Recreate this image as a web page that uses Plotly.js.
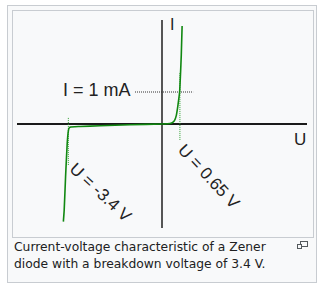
<!DOCTYPE html>
<html>
<head>
<meta charset="utf-8">
<script src="https://cdn.plot.ly/plotly-3.0.1.min.js"></script>
<style>
  html, body { margin: 0; padding: 0; background: #ffffff; }
  body { width: 321px; height: 290px; position: relative; overflow: hidden; }
  #outer { position: absolute; left: 7px; top: 5px; width: 310px; height: 278px;
           box-sizing: border-box; border: 1px solid #c8ccd1; background: #f8f9fa; }
  #inner { position: absolute; left: 12px; top: 10px; width: 302px; height: 228px;
           box-sizing: border-box; border: 1px solid #c8ccd1; background: #f8f9fa; }
  #chart { position: absolute; left: 0; top: 0; width: 321px; height: 290px; }
  #caption { position: absolute; left: 14px; top: 239px; width: 280px;
             font-family: "DejaVu Sans", sans-serif; font-size: 12.32px; line-height: 17.25px;
             color: #202122; }
  #enlarge { position: absolute; left: 296px; top: 240px; }
</style>
</head>
<body>
<div id="outer"></div>
<div id="inner"></div>
<div id="chart"></div>
<div id="caption">Current-voltage characteristic of a Zener diode with a breakdown voltage of 3.4 V.</div>
<svg id="enlarge" width="13" height="10" viewBox="0 0 13 10">
  <rect x="4.5" y="1.5" width="7" height="5" fill="none" stroke="#54595d" stroke-width="1"/>
  <rect x="1.5" y="4.5" width="4" height="4" fill="#f8f9fa" stroke="#54595d" stroke-width="1"/>
</svg>
<script>
// Forward branch (U in V, I in mA)
const forwardU = [0, 0.29, 0.40, 0.47, 0.52, 0.56, 0.60, 0.64, 0.67, 0.70, 0.73];
const forwardI = [0, 0.016, 0.06, 0.14, 0.27, 0.47, 0.72, 1.0, 1.53, 2.16, 3.06];
// Reverse branch (from origin toward breakdown)
const reverseU = [0, -1.16, -2.25, -2.98, -3.34, -3.38, -3.40, -3.44, -3.50, -3.55, -3.58];
const reverseI = [0, -0.025, -0.053, -0.078, -0.10, -0.14, -0.22, -0.59, -1.65, -2.69, -3.05];

// Reference values
const currentRef = 1;        // I = 1 mA
const forwardVoltage = 0.65; // U = 0.65 V
const breakdownVoltage = -3.4; // U = -3.4 V
const currentGuideU = [-0.98, 1.13];
const forwardGuideI = [1.59, -0.5];
const breakdownGuideI = [0.19, -1.28];

const curveU = reverseU.slice().reverse().concat(forwardU.slice(1));
const curveI = reverseI.slice().reverse().concat(forwardI.slice(1));

const traces = [
  { x: currentGuideU, y: [currentRef, currentRef], mode: 'lines', hoverinfo: 'skip',
    line: { color: '#333333', width: 1, dash: '1px,1px' } },
  { x: [forwardVoltage, forwardVoltage], y: forwardGuideI, mode: 'lines', hoverinfo: 'skip',
    line: { color: '#2e9e2e', width: 1, dash: '1px,1px' } },
  { x: [breakdownVoltage, breakdownVoltage], y: breakdownGuideI, mode: 'lines', hoverinfo: 'skip',
    line: { color: '#2e9e2e', width: 1, dash: '1px,1px' } },
  { x: curveU, y: curveI, mode: 'lines', hoverinfo: 'skip',
    line: { color: '#118811', width: 1.6, shape: 'spline', smoothing: 0.4 } }
];

const txt = { family: 'Liberation Sans, Arial, sans-serif', color: '#222222' };
const layout = {
  width: 321, height: 290,
  margin: { l: 17, r: 14, t: 20, b: 62, pad: 0 },
  paper_bgcolor: 'rgba(0,0,0,0)', plot_bgcolor: 'rgba(0,0,0,0)',
  showlegend: false,
  xaxis: { range: [-5.263, 5.263], showgrid: false, showticklabels: false, ticks: '',
           zeroline: true, zerolinecolor: '#555555', zerolinewidth: 1.8, showline: false, fixedrange: true },
  yaxis: { range: [-3.25, 3.25], showgrid: false, showticklabels: false, ticks: '',
           zeroline: true, zerolinecolor: '#1a1a1a', zerolinewidth: 1.5, showline: false, fixedrange: true },
  annotations: [
    { x: -2.35, y: 1.05, xref: 'x', yref: 'y', text: 'I = 1 mA', showarrow: false,
      xanchor: 'center', yanchor: 'middle', font: Object.assign({ size: 18 }, txt) },
    { x: 0.36, y: 3.12, xref: 'x', yref: 'y', text: 'I', showarrow: false,
      xanchor: 'center', yanchor: 'middle', font: Object.assign({ size: 16 }, txt) },
    { x: 5.02, y: -0.47, xref: 'x', yref: 'y', text: 'U', showarrow: false,
      xanchor: 'center', yanchor: 'middle', font: Object.assign({ size: 17 }, txt) },
    { x: 1.69, y: -1.65, xref: 'x', yref: 'y', text: 'U = 0.65 V', showarrow: false, textangle: 47,
      xanchor: 'center', yanchor: 'middle', font: Object.assign({ size: 17 }, txt) },
    { x: -2.23, y: -2.14, xref: 'x', yref: 'y', text: 'U = -3.4 V', showarrow: false, textangle: 43,
      xanchor: 'center', yanchor: 'middle', font: Object.assign({ size: 17 }, txt) }
  ]
};

Plotly.newPlot('chart', traces, layout, { staticPlot: true, displayModeBar: false });
</script>
</body>
</html>
